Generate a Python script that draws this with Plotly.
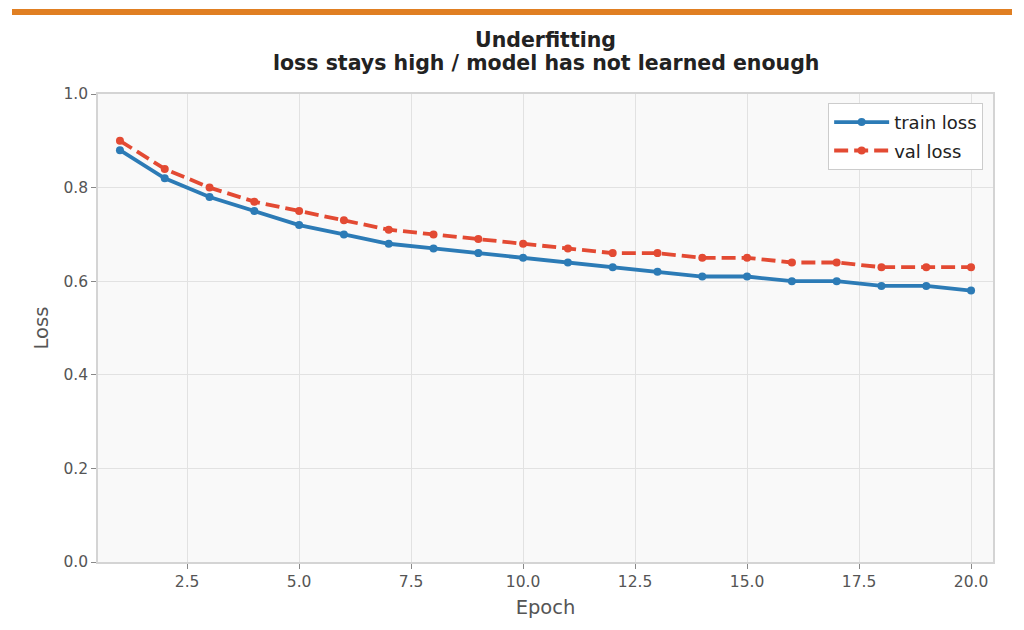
import plotly.graph_objects as go

epochs = list(range(1, 21))
train_loss = [0.88, 0.82, 0.78, 0.75, 0.72, 0.70, 0.68, 0.67, 0.66, 0.65,
              0.64, 0.63, 0.62, 0.61, 0.61, 0.60, 0.60, 0.59, 0.59, 0.58]
val_loss = [0.90, 0.84, 0.80, 0.77, 0.75, 0.73, 0.71, 0.70, 0.69, 0.68,
            0.67, 0.66, 0.66, 0.65, 0.65, 0.64, 0.64, 0.63, 0.63, 0.63]
title_line1 = "Underfitting"
title_line2 = "loss stays high / model has not learned enough"

FONT = "DejaVu Sans"
L, R, T, B = 98, 993, 94, 562
PW, PH = R - L, B - T

def px_x(x):
    return (x - L) / PW

def px_y(y):
    return (B - y) / PH

fig = go.Figure()
fig.add_trace(go.Scatter(x=epochs, y=train_loss, name="train loss", mode="lines+markers",
                         legendgroup="a",
                         line=dict(color="#2c7bb6", width=3.8),
                         marker=dict(size=8, color="#2c7bb6")))
fig.add_trace(go.Scatter(x=epochs, y=val_loss, name="val loss", mode="lines+markers",
                         legendgroup="b",
                         line=dict(color="#e34a33", width=3.8, dash="14px,6px"),
                         marker=dict(size=8, color="#e34a33")))

fig.update_layout(
    width=1024, height=630,
    margin=dict(l=L, r=1024 - R, t=T, b=630 - B),
    paper_bgcolor="white",
    plot_bgcolor="#f9f9f9",
    font=dict(family=FONT, color="#444"),
    legend=dict(x=0.989, xanchor="right", y=0.981, yanchor="top",
                bgcolor="white", bordercolor="#cccccc", borderwidth=1,
                tracegroupgap=2, itemwidth=55,
                font=dict(family=FONT, size=18, color="#222")),
    showlegend=True,
)
fig.add_annotation(text="<b>" + title_line1 + "</b>", xref="paper", yref="paper",
                   x=0.5, y=px_y(40), xanchor="center", yanchor="middle", showarrow=False,
                   font=dict(family=FONT, size=20.5, color="#222"))
fig.add_annotation(text="<b>" + title_line2 + "</b>", xref="paper", yref="paper",
                   x=0.5, y=px_y(63), xanchor="center", yanchor="middle", showarrow=False,
                   font=dict(family=FONT, size=20.5, color="#222"))

fig.update_xaxes(range=[0.51, 20.49], tick0=0, dtick=2.5, tickformat=".1f",
                 showgrid=True, gridcolor="#e2e2e2", gridwidth=1,
                 showline=True, linecolor="#d4d4d4", mirror=True, linewidth=1.5,
                 ticks="outside", ticklen=5, tickcolor="#888",
                 tickfont=dict(family=FONT, size=15.5, color="#555"),
                 title=dict(text="Epoch", font=dict(family=FONT, size=19.5, color="#555"), standoff=10),
                 zeroline=False)
fig.update_yaxes(range=[0, 1.0], tick0=0, dtick=0.2, tickformat=".1f",
                 showgrid=True, gridcolor="#e2e2e2", gridwidth=1,
                 showline=True, linecolor="#d4d4d4", mirror=True, linewidth=1.5,
                 ticks="outside", ticklen=5, tickcolor="#888",
                 tickfont=dict(family=FONT, size=15.5, color="#555"),
                 title=dict(text="Loss", font=dict(family=FONT, size=19.5, color="#555"), standoff=10),
                 zeroline=False)

fig.add_shape(type="rect", xref="paper", yref="paper",
              x0=px_x(12), x1=px_x(1012), y0=px_y(15), y1=px_y(9),
              fillcolor="#e07f22", line=dict(width=0), layer="above")

fig.write_html("out.html")
